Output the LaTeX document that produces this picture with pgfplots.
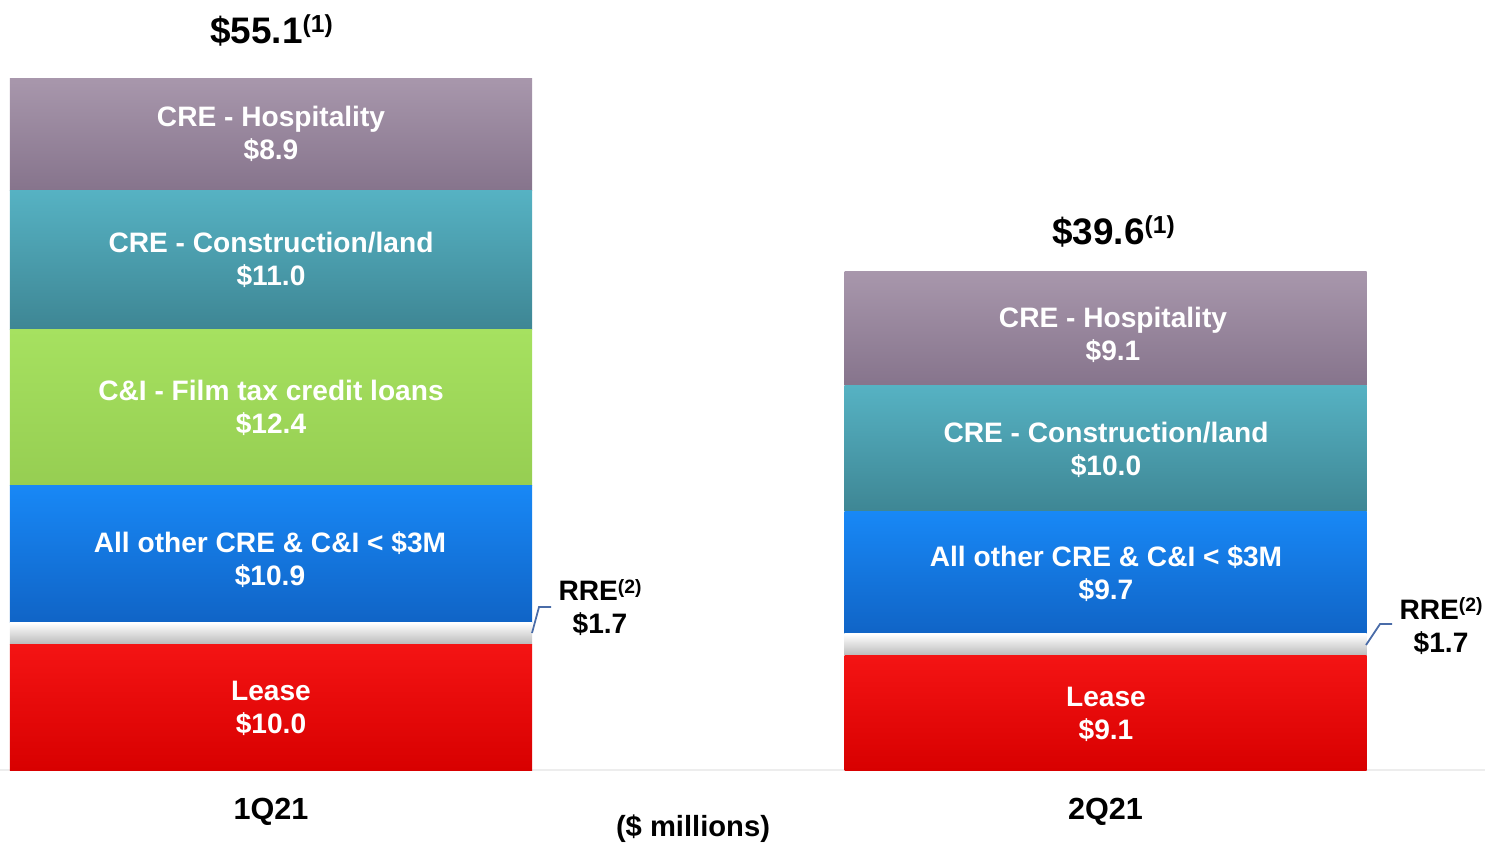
\documentclass[border=0pt]{standalone}
\usepackage{pgfplots}
\pgfplotsset{compat=1.18}
\usepackage{fontspec}
\setmainfont{Liberation Sans}
\definecolor{hospT}{HTML}{A897AC}
\definecolor{hospM}{HTML}{9A889E}
\definecolor{hospB}{HTML}{86748C}
\definecolor{conT}{HTML}{56B2C3}
\definecolor{conM}{HTML}{4A9DAD}
\definecolor{conB}{HTML}{3E8694}
\definecolor{filT}{HTML}{A6E160}
\definecolor{filM}{HTML}{A0DC5A}
\definecolor{filB}{HTML}{96CE52}
\definecolor{othT}{HTML}{1888F6}
\definecolor{othM}{HTML}{1478E2}
\definecolor{othB}{HTML}{1064C6}
\definecolor{rreT}{HTML}{FFFFFF}
\definecolor{rreM}{HTML}{F0F0F0}
\definecolor{rreB}{HTML}{BBBBBB}
\definecolor{leaT}{HTML}{F41414}
\definecolor{leaM}{HTML}{EE0505}
\definecolor{leaB}{HTML}{D80000}
\definecolor{leader}{HTML}{4A6CA8}
\pgfplotsset{
  quarter/.style={
    at={(0,0.72cm)}, anchor=south west,
    scale only axis,
    width=14.85cm, height=7.70cm,
    xmin=-0.32475, xmax=1.45476,
    ymin=0, ymax=61.111,
    ybar stacked, bar width=5.22cm,
    clip=false,
  },
  lea/.style={draw=none, top color=leaT, middle color=leaM, bottom color=leaB},
  rre/.style={draw=none, top color=rreT, middle color=rreM, bottom color=rreB},
  oth/.style={draw=none, top color=othT, middle color=othM, bottom color=othB},
  fil/.style={draw=none, top color=filT, middle color=filM, bottom color=filB},
  con/.style={draw=none, top color=conT, middle color=conM, bottom color=conB},
  hos/.style={draw=none, top color=hospT, middle color=hospM, bottom color=hospB},
}
\begin{document}
\begin{tikzpicture}
\useasboundingbox (0,0) rectangle (14.85,8.42);
% 1Q21 stack (carries the category axis)
\begin{axis}[
  quarter,
  axis y line=none,
  axis x line=bottom,
  x axis line style={-, draw=black!7, line width=0.8pt},
  xtick={0,1}, xticklabels={1Q21,2Q21},
  major tick length=0pt,
  xticklabel style={font=\bfseries\fontsize{8.7}{10}\selectfont, anchor=base, yshift=-0.49cm},
]
\addplot[lea] coordinates {(0,10.0)};
\addplot[rre] coordinates {(0,1.7)};
\addplot[oth] coordinates {(0,10.9)};
\addplot[fil] coordinates {(0,12.4)};
\addplot[con] coordinates {(0,11.0)};
\addplot[hos] coordinates {(0,8.9)};
\end{axis}
% 2Q21 stack (same geometry, hidden axis)
\begin{axis}[quarter, hide axis]
\addplot[lea] coordinates {(1,9.1)};
\addplot[rre] coordinates {(1,1.7)};
\addplot[oth] coordinates {(1,9.7)};
\addplot[con] coordinates {(1,10.0)};
\addplot[hos] coordinates {(1,9.1)};
\end{axis}
% segment labels
\tikzset{seg/.style={text=white, align=center, inner sep=0pt, font=\bfseries\fontsize{8}{9.4}\selectfont}}
\node[seg] at (2.71,7.085) {CRE - Hospitality\\\$8.9};
\node[seg] at (2.71,5.825) {CRE - Construction/land\\\$11.0};
\node[seg] at (2.71,4.345) {C\&I - Film tax credit loans\\\$12.4};
\node[seg] at (2.70,2.82) {All other CRE \& C\&I < \$3M\\\$10.9};
\node[seg] at (2.71,1.34) {Lease\\\$10.0};
\node[seg] at (11.13,5.07) {CRE - Hospitality\\\$9.1};
\node[seg] at (11.06,3.92) {CRE - Construction/land\\\$10.0};
\node[seg] at (11.06,2.68) {All other CRE \& C\&I < \$3M\\\$9.7};
\node[seg] at (11.06,1.28) {Lease\\\$9.1};
% totals
\node[anchor=base, inner sep=0pt, font=\bfseries\fontsize{10.5}{12}\selectfont] at (2.715,7.99) {\$55.1\raisebox{2.9pt}{\fontsize{7}{8}\selectfont(1)}};
\node[anchor=base, inner sep=0pt, font=\bfseries\fontsize{10.5}{12}\selectfont] at (11.135,5.98) {\$39.6\raisebox{2.9pt}{\fontsize{7}{8}\selectfont(1)}};
% RRE call-outs
\tikzset{rrelab/.style={align=center, inner sep=0pt, font=\bfseries\fontsize{8}{9.4}\selectfont}}
\node[rrelab] at (6.00,2.345) {RRE\raisebox{2.2pt}{\fontsize{5.5}{6}\selectfont(2)}\\\$1.7};
\node[rrelab] at (14.41,2.16) {RRE\raisebox{2.2pt}{\fontsize{5.5}{6}\selectfont(2)}\\\$1.7};
\draw[leader, line width=0.5pt] (5.32,2.09) -- (5.39,2.35) -- (5.51,2.35);
\draw[leader, line width=0.5pt] (13.66,1.97) -- (13.80,2.18) -- (13.92,2.18);
% unit note
\node[inner sep=0pt, font=\bfseries\fontsize{8.3}{10}\selectfont] at (6.93,0.13) {(\$ millions)};
\end{tikzpicture}
\end{document}
